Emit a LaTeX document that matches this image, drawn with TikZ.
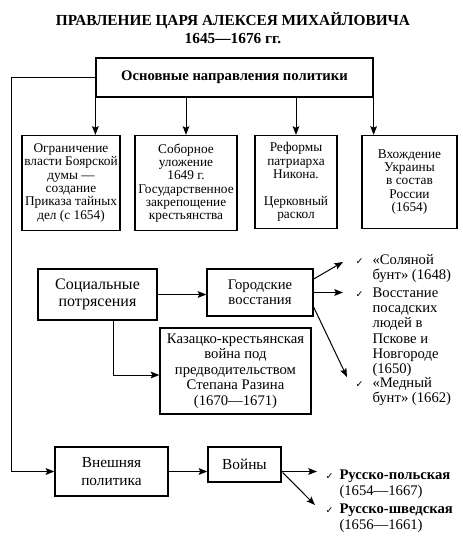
\documentclass[tikz,border=0pt]{standalone}
\usepackage{fontspec}
\setmainfont{Liberation Serif}
\newfontfamily\checkfont{DejaVu Sans}
\usetikzlibrary{arrows.meta,calc}

\newcommand{\tick}{\makebox[12.75pt][l]{\checkfont\fontsize{7}{7}\selectfont ✓}}
\newcommand{\tickpad}{\hspace*{12.75pt}}
\newcommand{\wtick}{\makebox[10.5pt][l]{\checkfont\fontsize{7}{7}\selectfont ✓}}
\newcommand{\wtickpad}{\hspace*{10.5pt}}

\tikzset{every picture/.style={line width=0.75pt}}
\tikzset{
  box/.style={draw, line width=0.95pt, inner sep=0pt, align=center},
  topbox/.style={box, font=\rmfamily\fontsize{10}{10}\selectfont},
  midbox/.style={box, font=\rmfamily\fontsize{11}{11.6}\selectfont},
  bigbox/.style={box, font=\rmfamily\fontsize{12}{12.5}\selectfont},
  itemlist/.style={anchor=north west, inner sep=0pt, align=left, font=\rmfamily\fontsize{11}{11.5}\selectfont},
  arr/.style={-{Stealth[length=6.5pt,width=5pt,inset=1.2pt]}, line width=0.75pt}
}

\begin{document}
\begin{tikzpicture}[x=0.75pt,y=0.75pt,yscale=-1,xscale=1]
\useasboundingbox (0,0) rectangle (463,539);

% Title
\node [anchor=north, inner sep=0pt, align=center, font=\rmfamily\bfseries\fontsize{11.5}{13.5}\selectfont] (title) at (233,12)
  {ПРАВЛЕНИЕ ЦАРЯ АЛЕКСЕЯ МИХАЙЛОВИЧА\\1645—1676 гг.};

%Shape: Rectangle [main]
\node [box, font=\rmfamily\bfseries\fontsize{11}{11}\selectfont, minimum width=207.75pt, minimum height=29.25pt] (main) at (234.5,77.5) {Основные направления политики};

%Shape: Rectangle [top row]
\node [topbox, minimum width=73.5pt, minimum height=71.25pt] (b1) at (71,183)
  {Ограничение\\власти Боярской\\думы —\\создание\\Приказа тайных\\дел (с 1654)};
\node [topbox, minimum width=76.5pt, minimum height=71.25pt] (b2) at (186,183)
  {Соборное\\уложение\\1649 г.\\Государственное\\закрепощение\\крестьянства};
\node [topbox, minimum width=61.5pt, minimum height=69.75pt] (b3) at (296,182)
  {Реформы\\патриарха\\Никона.\\[10pt]Церковный\\раскол};
\node [topbox, minimum width=71.25pt, minimum height=69.75pt] (b4) at (409.5,182)
  {Вхождение\\Украины\\в состав\\России\\(1654)};

%Straight Lines [top arrows]
\draw [arr] (main.south west) -- (main.south west |- b1.north);
\draw [arr] (b2.north |- main.south) -- (b2.north);
\draw [arr] (b3.north |- main.south) -- (b3.north);
\draw [arr] (main.south east) -- (main.south east |- b4.north);

%Shape: Rectangle [social]
\node [bigbox, minimum width=89.25pt, minimum height=38.25pt] (soc) at (97.5,294.5) {Социальные\\потрясения};
\node [midbox, minimum width=79.5pt, minimum height=35.25pt] (gor) at (260,292.5) {Городские\\восстания};
\node [midbox, minimum width=113.25pt, minimum height=64.5pt] (kaz) at (235.5,371)
  {Казацко-крестьянская\\война под\\предводительством\\Степана Разина\\(1670—1671)};

% Text Node [uprisings]
\node [itemlist] (s1) at (355,254) {\tick«Соляной\\\tickpad бунт» (1648)};
\node [itemlist] (s2) at (355,287) {\tick Восстание\\\tickpad посадских\\\tickpad людей в\\\tickpad Пскове и\\\tickpad Новгороде\\\tickpad (1650)};
\node [itemlist] (s3) at (355,377) {\tick«Медный\\\tickpad бунт» (1662)};

%Straight Lines [social arrows]
\draw [arr] (soc.east) -- (soc.east -| gor.west);
\draw [arr] ($(soc.south)+(15.5,0)$) |- ($(kaz.west)+(0,4)$);
\draw [arr] ($(gor.east)+(0,-13.5)$) -- ($(s1.north west)+(-12,8)$);
\draw [arr] (gor.east) -- ($(gor.east -| s2.west)+(-12,0)$);
\draw [arr] ($(gor.east)+(0,14.5)$) -- ($(s3.north west)+(-8,0)$);

%Shape: Rectangle [foreign]
\node [bigbox, font=\rmfamily\fontsize{11.5}{14}\selectfont, minimum width=84.75pt, minimum height=36.75pt] (vn) at (111.5,471.5) {Внешняя\\политика};
\node [bigbox, font=\rmfamily\fontsize{11.5}{12}\selectfont, minimum width=54.75pt, minimum height=26.25pt] (voy) at (244.5,464.5) {Войны};

% Text Node [wars]
\node [itemlist, font=\rmfamily\fontsize{11}{12}\selectfont] (w1) at (325,469) {\wtick\textbf{Русско-польская}\\\wtickpad (1654—1667)};
\node [itemlist, font=\rmfamily\fontsize{11}{12}\selectfont] (w2) at (325,503) {\wtick\textbf{Русско-шведская}\\\wtickpad (1656—1661)};

%Straight Lines [foreign arrows]
\draw [arr] (main.west) -- ++(-84,0) |- (vn.west);
\draw [arr] (vn.east) -- (vn.east -| voy.west);
\draw [arr] (voy.east |- vn.east) -- ($(vn.east -| w1.west)+(-8,0)$);
\draw [arr] ($(voy.east |- vn.east)+(1,1)$) -- ($(w2.north west)+(-10,2)$);

\end{tikzpicture}
\end{document}
